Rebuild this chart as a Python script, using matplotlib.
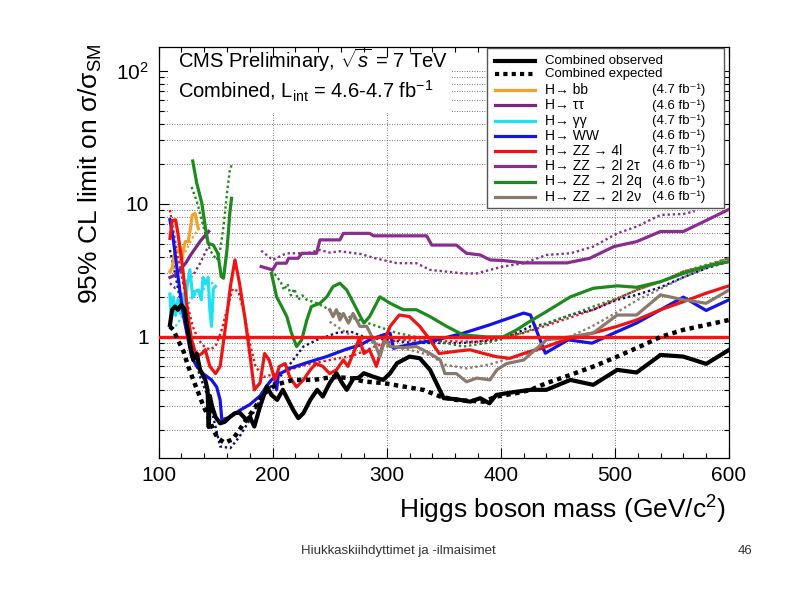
import matplotlib
matplotlib.use("Agg")
import matplotlib.pyplot as plt
from matplotlib.patches import Rectangle
from matplotlib.ticker import FixedLocator, MultipleLocator, NullFormatter

plt.rcParams['font.family'] = ['Liberation Sans', 'DejaVu Sans']
plt.rcParams['mathtext.fontset'] = 'custom'
plt.rcParams['mathtext.rm'] = 'Liberation Sans'
plt.rcParams['mathtext.it'] = 'Liberation Sans:italic'
plt.rcParams['mathtext.bf'] = 'Liberation Sans:bold'

# ---- data (Higgs mass in GeV, limit on sigma/sigma_SM) ----
m_obs = [110, 112, 114.5, 117, 120, 123, 125, 128, 130.5, 133.5, 136.5, 141, 143, 144, 145,
         147, 150, 154, 158, 163, 167, 171, 177, 180, 184, 189, 195, 199, 204, 209,
         218, 222.5, 227, 233, 239, 244, 250, 256, 261, 265, 271, 275, 280, 288, 297,
         303, 309, 320, 329, 338, 350, 361, 373, 382, 390, 396, 408, 426, 440, 461,
         481, 502, 519, 540, 560, 580, 600]
v_obs = [1.23, 1.6, 1.69, 1.6, 1.74, 1.6, 1.2, 0.85, 0.67, 0.75, 0.565, 0.475, 0.40, 0.21, 0.36,
         0.30, 0.25, 0.224, 0.23, 0.252, 0.267, 0.27, 0.238, 0.25, 0.212, 0.30, 0.423, 0.366, 0.336, 0.40,
         0.283, 0.245, 0.267, 0.336, 0.40, 0.356, 0.449, 0.533, 0.449, 0.40, 0.49, 0.49, 0.533, 0.503, 0.475,
         0.533, 0.634, 0.711, 0.691, 0.565, 0.346, 0.340, 0.326, 0.346, 0.317, 0.366, 0.381, 0.40, 0.40, 0.475,
         0.436, 0.565, 0.54, 0.732, 0.711, 0.627, 0.798]

m_exp = [110, 113, 117, 122, 126, 130.5, 135, 139, 143.5, 148, 152, 158, 165, 171, 177,
         183, 189, 196, 204, 218, 236, 253, 268, 280, 297, 315, 332, 347, 361, 385,
         396, 414, 426, 440, 461, 481, 502, 522, 540, 560, 580, 600]
v_exp = [1.2, 1.13, 0.95, 0.775, 0.60, 0.475, 0.378, 0.308, 0.252, 0.20, 0.173, 0.16, 0.17, 0.2, 0.24,
         0.28, 0.34, 0.40, 0.44, 0.475, 0.475, 0.50, 0.49, 0.462, 0.45, 0.423, 0.40, 0.356, 0.336, 0.326,
         0.356, 0.378, 0.40, 0.449, 0.518, 0.598, 0.711, 0.846, 1.0, 1.13, 1.23, 1.34]

m_bb = [110, 112, 114.5, 117, 119, 120.5, 122, 123.5, 126, 128, 129.5, 132, 134, 135]
v_bb = [3.1, 3.3, 4.5, 4.5, 4.25, 3.8, 4.6, 5.2, 5.2, 6.5, 8.2, 8.5, 7.0, 6.5]
m_bb_exp = [110, 115, 120, 125, 130, 135]
v_bb_exp = [3.0, 3.4, 3.9, 4.6, 5.6, 6.5]

m_tt = [110, 114, 119, 124, 128, 132, 137, 141, 144]
v_tt = [2.8, 2.9, 3.2, 3.6, 4.1, 4.6, 5.3, 5.8, 6.2]
m_tt_exp = [110, 114.5, 119, 124.5, 130.5, 136.5, 142, 145]
v_tt_exp = [2.53, 2.33, 2.39, 2.6, 2.92, 3.58, 4.5, 5.0]

m_gg = [110, 111, 113, 115, 117, 119, 121, 123, 125, 127.5, 130, 132, 135, 137.5, 139,
        141, 143.5, 145, 146.5, 148, 150]
v_gg = [2.1, 1.5, 2.0, 1.45, 1.9, 1.5, 2.1, 1.45, 2.4, 3.2, 2.0, 2.2, 2.25, 1.9, 2.8,
        2.5, 2.8, 1.6, 1.2, 2.3, 2.4]
m_gg_exp = [115, 120, 125, 130, 135, 140, 145, 150]
v_gg_exp = [1.2, 1.4, 1.7, 2.0, 2.2, 2.3, 2.5, 2.6]

m_ww = [110, 113, 116, 119, 122, 126, 129, 133.5, 139, 146.5, 151, 154, 155.5, 163, 171,
        180, 189, 195, 199, 202, 203.5, 205, 215, 230, 247, 265, 277, 285, 297, 303,
        306, 312, 326, 344, 367, 390, 420, 426, 439, 459, 480, 499, 519, 540, 560,
        580, 600]
v_ww = [7.6, 5.36, 3.38, 2.13, 1.42, 0.95, 0.71, 0.60, 0.53, 0.475, 0.42, 0.336, 0.238, 0.25, 0.28,
        0.31, 0.36, 0.43, 0.475, 0.50, 0.40, 0.52, 0.58, 0.64, 0.71, 0.81, 0.87, 0.95, 1.035, 1.066,
        0.82, 0.846, 0.897, 0.95, 1.066, 1.23, 1.51, 1.46, 0.754, 0.95, 0.897, 1.066, 1.27, 1.6, 1.99,
        1.58, 1.9]
m_ww_exp = [110, 114.5, 119, 124.5, 130.5, 136.5, 142, 148, 154, 163, 171, 180, 189, 198, 209,
            218, 227, 239, 256, 268, 280, 300, 323, 347, 367, 396, 414, 426, 440, 461,
            481, 502, 519, 540, 560, 580, 600]
v_ww_exp = [4.5, 3.0, 1.9, 1.2, 0.75, 0.5, 0.38, 0.25, 0.15, 0.146, 0.178, 0.238, 0.336, 0.42, 0.53,
            0.67, 0.846, 0.95, 1.07, 1.1, 1.0, 0.95, 0.9, 0.9, 0.9, 0.95, 1.07, 1.2, 1.25, 1.46,
            1.6, 1.9, 2.07, 2.36, 2.81, 3.28, 3.68]

m_4l = [110, 112, 115, 117, 120, 123, 126, 129, 133.5, 138, 141, 145, 150, 154, 158,
        163, 167, 171, 176, 180, 184, 189, 193, 197, 202, 206, 211, 215, 221, 227,
        233, 238, 244, 250, 256, 262, 266, 272, 276, 280, 285, 291, 297, 303, 311,
        320, 329, 338, 346, 361, 373, 385, 396, 408, 420, 440, 461, 481, 502, 519,
        540, 560, 580, 600]
v_4l = [5.5, 7.5, 7.58, 6.0, 4.0, 2.39, 1.42, 0.95, 0.71, 0.75, 0.8, 0.6, 0.53, 0.6, 1.07,
        2.39, 3.79, 2.53, 1.34, 0.75, 0.4, 0.45, 0.75, 0.67, 0.475, 0.6, 0.63, 0.5, 0.42, 0.475,
        0.565, 0.63, 0.6, 0.53, 0.565, 0.67, 0.6, 0.8, 0.97, 0.75, 0.8, 0.6, 0.9, 1.2, 1.46,
        1.42, 1.2, 0.95, 0.75, 0.78, 0.8, 0.75, 0.71, 0.69, 0.75, 0.846, 0.98, 1.07, 1.2, 1.34,
        1.6, 1.84, 2.13, 2.42]
m_4l_exp = [110, 115, 120, 125, 130, 135, 140, 145, 150, 155, 160, 165, 170, 175, 180,
            185, 192, 210, 230, 250, 270, 290, 310, 340, 380, 420, 450, 481, 500, 519,
            540, 560, 580, 600]
v_4l_exp = [9.0, 5.0, 3.0, 1.8, 1.2, 0.95, 0.85, 0.8, 0.85, 1.1, 1.6, 2.3, 2.2, 1.5, 0.9,
            0.6, 0.5, 0.55, 0.62, 0.67, 0.72, 0.85, 0.95, 0.93, 0.92, 1.07, 1.3, 1.6, 1.9, 2.25,
            2.6, 3.1, 3.4, 3.9]

m_2t = [190, 195, 200, 203.5, 212, 214, 222.5, 225.5, 238.5, 241.5, 259, 262, 285, 288.5, 335,
        339.5, 361, 370, 382, 390.5, 402, 420, 458, 478, 499, 519, 540, 560, 580, 600]
v_2t = [3.38, 3.28, 3.19, 3.58, 3.58, 3.9, 3.9, 4.25, 4.25, 5.36, 5.36, 6.0, 6.0, 5.75, 5.75,
        4.9, 4.9, 4.25, 4.13, 3.79, 3.75, 3.6, 3.6, 3.9, 4.77, 5.2, 6.2, 6.2, 7.5, 9.1]
m_2t_exp = [190, 200, 212, 230, 241.5, 250, 259, 277, 290, 309, 326, 338, 367, 379, 390.5,
            402, 420, 440, 461, 481, 502, 519, 540, 560, 570]
v_2t_exp = [4.45, 3.79, 4.25, 4.25, 4.5, 4.3, 4.4, 4.2, 3.9, 3.58, 3.58, 3.19, 3.0, 3.0, 3.19,
            3.38, 3.58, 4.13, 4.25, 4.77, 6.0, 6.75, 8.25, 8.4, 8.8]

m_2q_low = [130, 133.5, 138, 141, 143.5, 148, 152, 155, 157, 160, 162.5, 164]
v_2q_low = [21, 14.3, 10.1, 6.7, 5.06, 4.9, 4.25, 2.84, 2.76, 4.5, 8.5, 11]
m_2q_low_exp = [129, 133.5, 138, 141, 145, 151, 154, 157, 160, 162.5, 164]
v_2q_low_exp = [13.4, 10.5, 7.5, 6.0, 4.5, 3.79, 4.5, 6.75, 12, 17.9, 19.5]

m_2q = [199, 203.5, 208, 212.5, 216.5, 221, 225.5, 230, 234, 241.5, 247.5, 253, 259, 265, 271,
        277, 280, 285, 294, 303, 314.5, 326, 338, 352.5, 367, 387.5, 402, 414, 423, 440,
        461, 481, 502, 519, 540, 560, 580, 600]
v_2q = [3.0, 2.0, 1.69, 1.42, 1.07, 0.846, 0.95, 1.34, 1.69, 1.79, 2.0, 2.39, 2.53, 2.25, 1.79,
        1.42, 1.27, 1.42, 2.0, 1.79, 1.6, 1.6, 1.42, 1.2, 1.035, 1.0, 1.0, 1.13, 1.27, 1.55,
        2.0, 2.32, 2.42, 2.36, 2.6, 3.0, 3.38, 3.68]
m_2q_exp = [199, 203.5, 207, 210, 213, 216, 219, 222.5, 226, 230, 239, 250, 262, 276, 280,
            309, 338, 367, 387.5, 408, 426, 440, 461, 481, 502, 519, 540, 560, 580, 600]
v_2q_exp = [3.19, 2.84, 2.6, 2.25, 2.5, 2.05, 2.3, 1.9, 2.05, 1.9, 1.79, 1.6, 1.46, 1.34, 1.3,
            1.07, 0.95, 0.846, 0.9, 1.0, 1.13, 1.27, 1.46, 1.69, 1.95, 2.25, 2.6, 3.1, 3.48, 3.9]

m_2n = [250, 253, 256, 259, 262, 266.5, 270.5, 276.5, 282.5, 288.5, 294, 298.5, 303, 314.5, 326,
        338, 347, 351, 361, 370, 379, 390.5, 396.5, 405, 420, 440, 461, 481, 502, 519,
        540, 560, 580, 600]
v_2n = [1.6, 1.42, 1.6, 1.34, 1.5, 1.27, 1.5, 1.2, 1.2, 0.95, 0.71, 0.95, 0.846, 0.83, 0.846,
        0.75, 0.67, 0.53, 0.53, 0.46, 0.49, 0.475, 0.565, 0.63, 0.67, 0.95, 1.0, 1.07, 1.46, 1.46,
        2.07, 1.9, 1.79, 2.25]
m_2n_exp = [250, 270, 300, 320, 340, 350, 370, 390, 410, 430, 460, 480, 500, 520, 540, 560, 580, 600]
v_2n_exp = [1.3, 1.0, 0.85, 0.8, 0.72, 0.62, 0.58, 0.62, 0.7, 0.78, 1.0, 1.2, 1.5, 1.9, 2.3, 2.8, 3.3, 3.9]

sm_level = 1.0

channel_names = ["H\u2192 bb", "H\u2192 \u03c4\u03c4", "H\u2192 \u03b3\u03b3", "H\u2192 WW",
                 "H\u2192 ZZ \u2192 4l", "H\u2192 ZZ \u2192 2l 2\u03c4",
                 "H\u2192 ZZ \u2192 2l 2q", "H\u2192 ZZ \u2192 2l 2\u03bd"]
channel_lumi = ["4.7", "4.6", "4.7", "4.6", "4.7", "4.6", "4.6", "4.6"]
channel_colors = ['#F2A22E', '#7A2782', '#22E0F2', '#1414E6', '#EE1414', '#8A2C90', '#1E8A1E', '#8C796E']

# ---- figure ----
W, H = 794, 595
fig = plt.figure(figsize=(W / 100, H / 100), dpi=100)
AX_L, AX_R, AX_T, AX_B = 158.5, 729, 47, 457.5
ax = fig.add_axes([AX_L / W, 1 - AX_B / H, (AX_R - AX_L) / W, (AX_B - AX_T) / H])

def axx(px):
    return (px - AX_L) / (AX_R - AX_L)

def axy(py):
    return 1 - (py - AX_T) / (AX_B - AX_T)

ax.set_yscale('log')
ax.set_xlim(100, 600)
ax.set_ylim(0.124, 151)

SOL = 2.3
DOT = 1.7
dots = (0, (1, 1.2))

curves = [
    (m_bb, v_bb, m_bb_exp, v_bb_exp, channel_colors[0]),
    (m_tt, v_tt, m_tt_exp, v_tt_exp, channel_colors[1]),
    (m_gg, v_gg, m_gg_exp, v_gg_exp, channel_colors[2]),
    (m_ww, v_ww, m_ww_exp, v_ww_exp, channel_colors[3]),
    (m_4l, v_4l, m_4l_exp, v_4l_exp, channel_colors[4]),
    (m_2t, v_2t, m_2t_exp, v_2t_exp, channel_colors[5]),
    (m_2q_low, v_2q_low, m_2q_low_exp, v_2q_low_exp, channel_colors[6]),
    (m_2q, v_2q, m_2q_exp, v_2q_exp, channel_colors[6]),
    (m_2n, v_2n, m_2n_exp, v_2n_exp, channel_colors[7]),
]
for ms, vs, me, ve, c in curves:
    exp_col = '#0A0A90' if c == channel_colors[3] else c
    ax.plot(me, ve, color=exp_col, lw=DOT, ls=dots, zorder=3)
for ms, vs, me, ve, c in curves:
    ax.plot(ms, vs, color=c, lw=SOL, zorder=3.2)

ax.axhline(sm_level, color='#FF1010', lw=2.4, zorder=3.5)
ax.plot(m_exp, v_exp, color='black', lw=3.2, ls=(0, (1, 1)), zorder=4)
ax.plot(m_obs, v_obs, color='black', lw=3.0, zorder=4.1)

# ---- axes styling ----
ax.xaxis.set_major_locator(MultipleLocator(100))
ax.xaxis.set_minor_locator(MultipleLocator(20))
ax.yaxis.set_major_locator(FixedLocator([1, 10, 100]))
ax.set_yticklabels(['1', '10', r'$10^2$'])
minor_y = [k * 10.0 ** e for e in (-1, 0, 1, 2) for k in range(2, 10)]
ax.yaxis.set_minor_locator(FixedLocator(minor_y))
ax.yaxis.set_minor_formatter(NullFormatter())
ax.tick_params(which='both', direction='in', top=True, right=True, width=0.8, labelsize=15)
ax.tick_params(which='major', length=7)
ax.tick_params(which='minor', length=3.5)
ax.tick_params(axis='x', pad=6)
ax.tick_params(axis='y', pad=7)
for s in ax.spines.values():
    s.set_linewidth(0.9)

ax.grid(True, axis='x', which='major', color='#444444', lw=0.6, ls=(0, (1, 2)))
ax.grid(True, axis='y', which='both', color='#444444', lw=0.6, ls=(0, (1, 2)))

# white pave behind the header text
ax.add_patch(Rectangle((0.016, axy(113)), axx(452) - 0.016, axy(58) - axy(113),
                       transform=ax.transAxes, facecolor='white', edgecolor='none', zorder=2))
ax.text(axx(178), axy(68), r"CMS Preliminary, $\sqrt{s}$ = 7 TeV", transform=ax.transAxes,
        fontsize=14.5, va='baseline', ha='left', zorder=6)
ax.text(axx(178), axy(99), r"Combined, L$_{\rm int}$ = 4.6-4.7 fb$^{-1}$", transform=ax.transAxes,
        fontsize=14.5, va='baseline', ha='left', zorder=6)

# ---- legend (drawn by hand to get the two columns) ----
ax.add_patch(Rectangle((axx(487), axy(208)), axx(724) - axx(487), axy(48) - axy(208),
                       transform=ax.transAxes, facecolor='white', edgecolor='#555555',
                       lw=1.0, zorder=5))
rows_y = [60.5, 73.5] + [90 + 15.25 * i for i in range(8)]
h0, h1, tx, lx = axx(495), axx(535), axx(545), axx(652)
ax.plot([h0, h1], [axy(rows_y[0])] * 2, transform=ax.transAxes, color='black', lw=3.0, zorder=6)
ax.plot([h0, h1], [axy(rows_y[1])] * 2, transform=ax.transAxes, color='black', lw=3.0,
        ls=(0, (1, 1)), zorder=6)
ax.text(tx, axy(rows_y[0]), "Combined observed", transform=ax.transAxes, fontsize=9.5,
        va='center', zorder=6)
ax.text(tx, axy(rows_y[1]), "Combined expected", transform=ax.transAxes, fontsize=9.5,
        va='center', zorder=6)
for i, (name, lumi, c) in enumerate(zip(channel_names, channel_lumi, channel_colors)):
    yy = axy(rows_y[i + 2])
    ax.plot([h0, h1], [yy, yy], transform=ax.transAxes, color=c, lw=SOL, zorder=6)
    ax.text(tx, yy, name, transform=ax.transAxes, fontsize=10, va='center', zorder=6)
    ax.text(lx, yy, "(" + lumi + " fb\u207b\u00b9)", transform=ax.transAxes, fontsize=9.5,
            va='center', zorder=6)

# ---- axis titles ----
fig.text(90 / W, 1 - 44 / H, r"95% CL limit on σ/σ$_{\rm SM}$", rotation=90,
         ha='center', va='top', fontsize=19)
fig.text(AX_R / W - 0.004, 1 - 510 / H, r"Higgs boson mass (GeV/c$^{2}$)",
         ha='right', va='center', fontsize=19)

# ---- slide footer ----
fig.text(398 / W, 1 - 551 / H, "Hiukkaskiihdyttimet ja -ilmaisimet", ha='center', va='center',
         fontsize=9.5, color='#333333')
fig.text(745 / W, 1 - 551 / H, "46", ha='center', va='center', fontsize=9.5, color='#333333')

fig.savefig("out.png", dpi=100)
